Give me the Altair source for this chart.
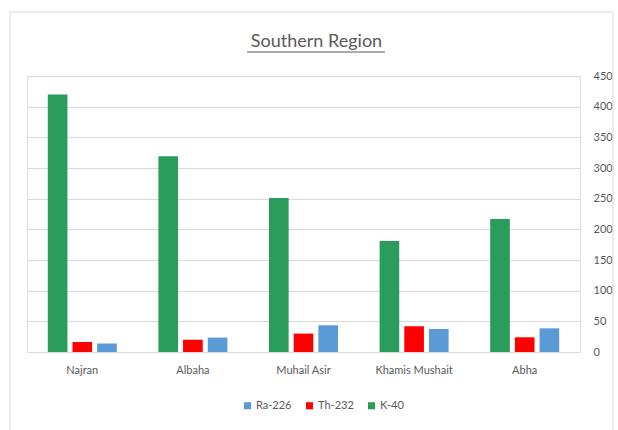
import altair as alt
import pandas as pd

regions = ["Najran", "Albaha", "Muhail Asir", "Khamis Mushait", "Abha"]
ra226 = [13.7, 23.5, 43.5, 37.5, 38.6]
th232 = [16.3, 20.0, 30.0, 42.0, 24.0]
k40 = [420, 319, 251, 181, 217]
series = ["Ra-226", "Th-232", "K-40"]
bar_order = ["K-40", "Th-232", "Ra-226"]
colors = ["#5B9BD5", "#FF0000", "#2A9D5C"]
y_ticks = [0, 50, 100, 150, 200, 250, 300, 350, 400, 450]

rows = []
for i, r in enumerate(regions):
    rows.append({"Region": r, "Nuclide": "Ra-226", "Value": ra226[i]})
    rows.append({"Region": r, "Nuclide": "Th-232", "Value": th232[i]})
    rows.append({"Region": r, "Nuclide": "K-40", "Value": k40[i]})
df = pd.DataFrame(rows)

W, H = 553, 276
FONT = "Lato"

bars = alt.Chart(df).mark_bar().encode(
    x=alt.X("Region:N", sort=regions,
            scale=alt.Scale(paddingInner=0.376, paddingOuter=0.188),
            axis=alt.Axis(title=None, labelAngle=0, ticks=False, domain=True,
                          domainColor="#D9D9D9", labelColor="#595959",
                          labelFontSize=11, labelPadding=12, labelFont=FONT)),
    xOffset=alt.XOffset("Nuclide:N", sort=bar_order,
                        scale=alt.Scale(paddingInner=0.204, paddingOuter=0)),
    y=alt.Y("Value:Q",
            scale=alt.Scale(domain=[0, 450], nice=False),
            axis=alt.Axis(title=None, orient="right", values=y_ticks,
                          ticks=False, domain=False, grid=True,
                          gridColor="#D9D9D9", labelColor="#595959",
                          labelFontSize=11, labelPadding=13, labelAlign="left",
                          labelFont=FONT)),
    color=alt.Color("Nuclide:N",
                    scale=alt.Scale(domain=series, range=colors),
                    legend=alt.Legend(title=None, orient="none", direction="horizontal",
                                      legendX=215, legendY=324, symbolType="square",
                                      symbolSize=50, symbolStrokeWidth=0,
                                      labelFontSize=11, labelColor="#595959",
                                      labelFont=FONT, columnPadding=12,
                                      labelOffset=3)),
)

border = alt.Chart(pd.DataFrame({"a": [0]})).mark_rect(
    fill=None, stroke="#D9D9D9", strokeWidth=1, clip=False
).encode(
    x=alt.value(-17), x2=alt.value(586), y=alt.value(-64), y2=alt.value(370)
)

underline = alt.Chart(pd.DataFrame({"a": [0]})).mark_rule(
    color="#595959", strokeWidth=1, clip=False
).encode(
    x=alt.value(220), x2=alt.value(358), y=alt.value(-24)
)

chart = alt.layer(border, bars, underline).properties(
    width=W, height=H,
    title=alt.TitleParams("Southern Region", fontSize=18, font=FONT,
                          fontWeight="normal", color="#595959",
                          anchor="middle", dx=13, offset=-39),
    autosize=alt.AutoSizeParams(type="none"),
    padding={"left": 27, "top": 76, "right": 38, "bottom": 78},
).configure_view(stroke=None).configure(background="white")

chart.save("out.html", embed_options={"renderer": "svg", "actions": False})
